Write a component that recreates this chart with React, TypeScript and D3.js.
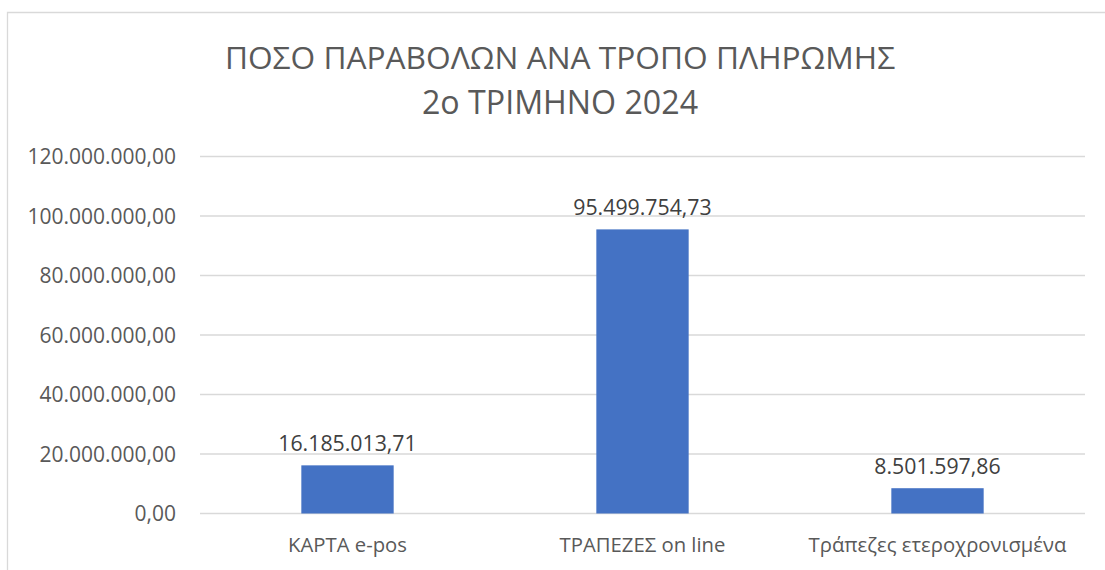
import React from "react";
import * as d3 from "d3";

const categories = ["ΚΑΡΤΑ e-pos", "ΤΡΑΠΕΖΕΣ on line", "Τράπεζες ετεροχρονισμένα"];
const values = [16185013.71, 95499754.73, 8501597.86];
const valueLabels = ["16.185.013,71", "95.499.754,73", "8.501.597,86"];
const yTicks = [0, 20000000, 40000000, 60000000, 80000000, 100000000, 120000000];
const titleLines = ["ΠΟΣΟ ΠΑΡΑΒΟΛΩΝ ΑΝΑ ΤΡΟΠΟ ΠΛΗΡΩΜΗΣ", "2ο ΤΡΙΜΗΝΟ 2024"];

const W = 1105;
const H = 570;
const FONT = "'Open Sans', 'Noto Sans', sans-serif";
const TEXT = "#595959";

const fmt = (v: number) => {
  const parts = v.toFixed(2).split(".");
  const intPart = parts[0].replace(/\B(?=(\d{3})+(?!\d))/g, ".");
  return intPart + "," + parts[1];
};

export default function App() {
  const left = 200;
  const right = 1085;
  const top = 156.5;
  const bottom = 513.5;

  const x = d3.scaleBand<string>().domain(categories).range([left, right]).padding(0);
  const y = d3.scaleLinear().domain([0, 120000000]).range([bottom, top]);
  const barW = x.bandwidth() * 0.313;

  return (
    <svg
      width={W}
      height={H}
      style={{ position: "absolute", left: 0, top: 0, background: "#fff" }}
    >
      <rect x={0} y={0} width={W} height={H} fill="#fff" />
      <path d={`M7.5,${H + 2} L7.5,12.5 L${W + 2},12.5`} fill="none" stroke="#d9d9d9" strokeWidth={1.3} />
      {titleLines.map((t, i) => (
        <text
          key={i}
          x={560}
          y={69 + i * 44.5}
          textAnchor="middle"
          fontFamily={FONT}
          fontSize={i === 0 ? 31.7 : 32.2}
          fill={TEXT}
        >
          {t}
        </text>
      ))}
      {yTicks.map((t) => (
        <g key={t}>
          <line x1={left} x2={right} y1={y(t)} y2={y(t)} stroke="#d9d9d9" strokeWidth={1.3} />
          <text
            x={176}
            y={y(t) + 7.5}
            textAnchor="end"
            fontFamily={FONT}
            fontSize={21}
            fill={TEXT}
          >
            {fmt(t)}
          </text>
        </g>
      ))}
      {categories.map((c, i) => {
        const cx = (x(c) as number) + x.bandwidth() / 2;
        return (
          <g key={c}>
            <rect
              x={cx - barW / 2}
              y={y(values[i])}
              width={barW}
              height={y(0) - y(values[i])}
              fill="#4472c4"
            />
            <text
              x={cx}
              y={y(values[i]) - 14}
              textAnchor="middle"
              fontFamily={FONT}
              fontSize={21.3}
              fill="#404040"
            >
              {valueLabels[i]}
            </text>
            <text
              x={cx}
              y={552}
              textAnchor="middle"
              fontFamily={FONT}
              fontSize={20.3}
              fill={TEXT}
            >
              {c}
            </text>
          </g>
        );
      })}
    </svg>
  );
}
